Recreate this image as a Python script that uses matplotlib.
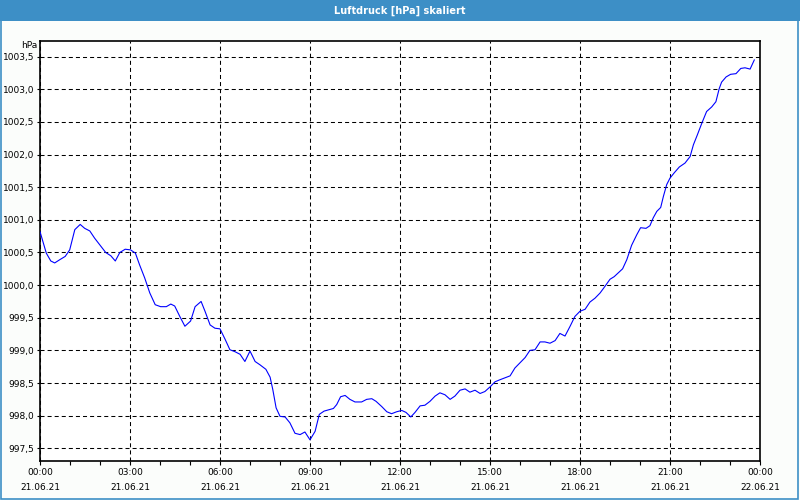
### Luftdruck-Diagramm (skaliert) ###

import matplotlib as mtp
mtp.use('Agg')  # kein GUI
import matplotlib.pyplot as plt
from matplotlib.patches import Rectangle

# Daten: Stunden seit 21.06.21 00:00 und Luftdruck in hPa
stunden = [0.0, 0.21, 0.36, 0.49, 0.66, 0.84, 0.99, 1.16, 1.34, 1.49, 1.66, 1.82, 1.99,
           2.19, 2.36, 2.51, 2.66, 2.84, 3.02, 3.18, 3.32, 3.49, 3.66, 3.84, 4.02, 4.21,
           4.36, 4.49, 4.66, 4.83, 5.02, 5.17, 5.37, 5.5, 5.67, 5.83, 6.0, 6.17, 6.33,
           6.5, 6.67, 6.83, 7.0, 7.17, 7.33, 7.53, 7.67, 7.76, 7.87, 8.0, 8.17, 8.33,
           8.5, 8.67, 8.83, 9.0, 9.17, 9.31, 9.47, 9.78, 9.89, 10.02, 10.17, 10.33,
           10.5, 10.72, 10.89, 11.06, 11.2, 11.39, 11.56, 11.72, 11.89, 12.06, 12.2,
           12.36, 12.5, 12.67, 12.83, 13.0, 13.17, 13.33, 13.5, 13.67, 13.83, 14.0,
           14.17, 14.33, 14.5, 14.67, 14.83, 15.0, 15.17, 15.33, 15.5, 15.67, 15.83,
           16.0, 16.17, 16.33, 16.5, 16.67, 16.83, 17.0, 17.17, 17.33, 17.5, 17.67,
           17.83, 18.0, 18.17, 18.33, 18.5, 18.67, 18.83, 19.0, 19.14, 19.42, 19.56,
           19.72, 19.89, 20.02, 20.2, 20.33, 20.44, 20.56, 20.69, 20.78, 20.89, 21.0,
           21.14, 21.31, 21.5, 21.67, 21.78, 21.91, 22.06, 22.22, 22.39, 22.53, 22.64,
           22.72, 22.87, 23.02, 23.2, 23.36, 23.5, 23.67, 23.81]
druck = [1000.82, 1000.49, 1000.37, 1000.34, 1000.39, 1000.44, 1000.54, 1000.85, 1000.93,
         1000.87, 1000.83, 1000.72, 1000.62, 1000.50, 1000.45, 1000.37, 1000.50, 1000.55,
         1000.54, 1000.49, 1000.31, 1000.11, 999.88, 999.70, 999.67, 999.67, 999.71,
         999.68, 999.52, 999.37, 999.45, 999.67, 999.75, 999.60, 999.39, 999.34, 999.33,
         999.17, 999.01, 998.98, 998.94, 998.83, 998.99, 998.83, 998.78, 998.71, 998.59,
         998.40, 998.12, 997.99, 997.98, 997.89, 997.73, 997.71, 997.75, 997.63, 997.76,
         998.02, 998.07, 998.11, 998.17, 998.29, 998.31, 998.25, 998.21, 998.21, 998.25,
         998.26, 998.22, 998.14, 998.06, 998.03, 998.06, 998.08, 998.05, 997.98, 998.05,
         998.15, 998.16, 998.22, 998.30, 998.35, 998.32, 998.25, 998.30, 998.39, 998.41,
         998.36, 998.39, 998.34, 998.37, 998.44, 998.52, 998.55, 998.58, 998.61, 998.73,
         998.81, 998.89, 999.00, 999.01, 999.13, 999.13, 999.11, 999.15, 999.26, 999.22,
         999.37, 999.52, 999.60, 999.63, 999.74, 999.80, 999.88, 999.98, 1000.09, 1000.13,
         1000.25, 1000.39, 1000.61, 1000.77, 1000.88, 1000.87, 1000.91, 1001.03, 1001.13,
         1001.19, 1001.36, 1001.54, 1001.64, 1001.72, 1001.81, 1001.87, 1001.97, 1002.15,
         1002.30, 1002.48, 1002.66, 1002.73, 1002.81, 1003.01, 1003.11, 1003.19, 1003.23,
         1003.24, 1003.32, 1003.33, 1003.31, 1003.45]

# Achsenbeschriftung
x_ticks = [0, 3, 6, 9, 12, 15, 18, 21, 24]
zeit_labels = ["00:00", "03:00", "06:00", "09:00", "12:00", "15:00", "18:00", "21:00", "00:00"]
datum_labels = ["21.06.21"] * 8 + ["22.06.21"]
y_ticks = [997.5, 998.0, 998.5, 999.0, 999.5, 1000.0, 1000.5, 1001.0,
           1001.5, 1002.0, 1002.5, 1003.0, 1003.5]

titel = "Luftdruck [hPa] skaliert"
blau = "#3d8fc6"

plt.rcParams['font.family'] = ['DejaVu Sans']
plt.rcParams['lines.scale_dashes'] = False

fig = plt.figure(figsize=(8, 5), dpi=100, facecolor="#fbfdfb")

# Titelleiste und Rahmen
fig.patches.append(Rectangle((0, 0.959), 1, 0.041, transform=fig.transFigure,
                             facecolor=blau, edgecolor="none", zorder=0))
fig.patches.append(Rectangle((0.001, 0.002), 0.997, 0.996, transform=fig.transFigure,
                             facecolor="none", edgecolor=blau, linewidth=1.2, zorder=1))
fig.text(0.5, 0.979, titel, color="white", fontsize=7, fontweight="bold",
         ha="center", va="center")

ax = fig.add_axes([0.05, 0.0786, 0.90, 0.84])
ax.set_facecolor("white")

ax.plot(stunden, druck, color="#0000ff", linewidth=0.8, zorder=3)

ax.set_xlim(0, 24)
ax.set_ylim(997.31, 1003.745)

ax.set_xticks(x_ticks)
ax.set_xticklabels([f"{z}\n{d}" for z, d in zip(zeit_labels, datum_labels)],
                   fontsize=6.5, linespacing=1.75)
ax.set_xticks(range(0, 25), minor=True)
ax.set_yticks(y_ticks)
ax.set_yticklabels([f"{v:.1f}".replace(".", ",") for v in y_ticks], fontsize=6.5)

ax.tick_params(axis="x", which="major", length=3, width=0.8, pad=2.5)
ax.tick_params(axis="x", which="minor", length=3, width=0.8)
ax.tick_params(axis="y", length=2, width=0.8, pad=2)

ax.grid(True, color="black", linestyle=(0, (2.9, 2.2)), linewidth=0.75)
for s in ax.spines.values():
    s.set_linewidth(1.2)

ax.text(-0.004, 1.0, "hPa", transform=ax.transAxes, fontsize=6.5,
        ha="right", va="top")

plt.savefig("out.png", dpi=100, facecolor=fig.get_facecolor())
